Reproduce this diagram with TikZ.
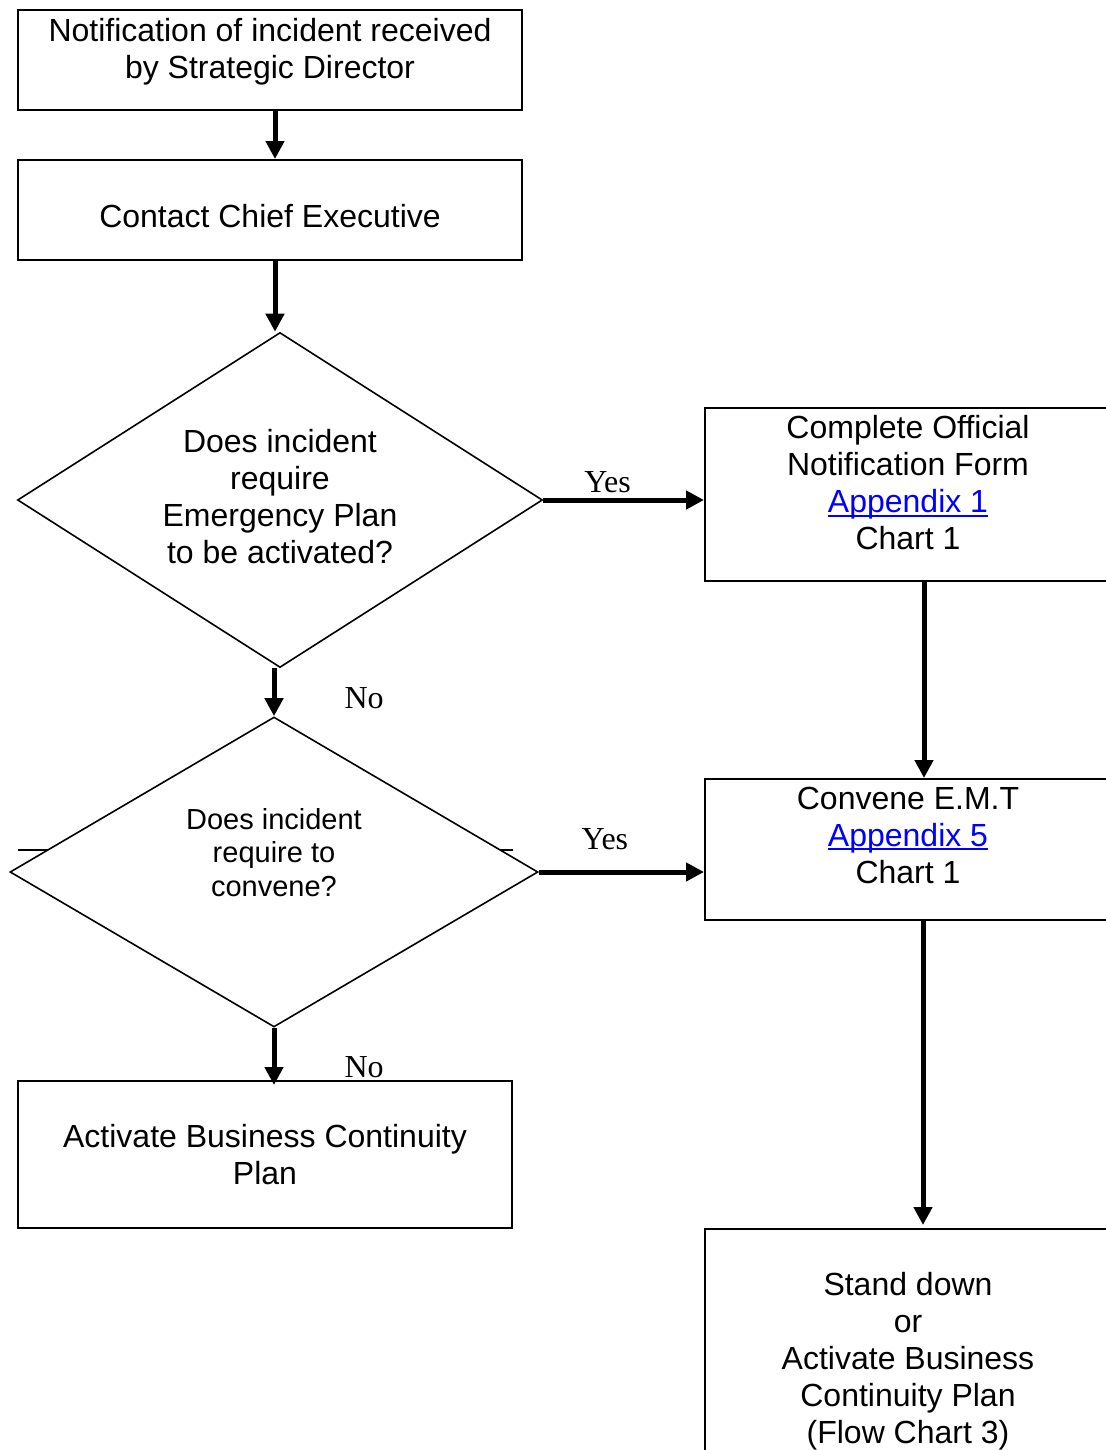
\documentclass[tikz,border=0pt]{standalone}
\usepackage{fontspec}
\setmainfont{Liberation Sans}
\newfontfamily\labelfont{Liberation Serif}
\usetikzlibrary{shapes.geometric,arrows.meta,positioning}

% blue underlined link text
\newcommand{\applink}[1]{\textcolor{blue}{\setbox0\hbox{#1}\rlap{\rule[-2pt]{\wd0}{0.9pt}}\box0}}

\begin{document}
\begin{tikzpicture}[x=0.5pt, y=-0.5pt,
      box/.style={rectangle, draw, line width=1pt, align=center, inner sep=0pt,
                  font=\fontsize{16}{18.5}\selectfont, text depth=0pt},
      wide/.style={box, minimum width=252pt, minimum height=50pt},
      side/.style={box, minimum width=203pt},
      decision/.style={diamond, draw, line width=0.8pt, fill=white, inner sep=0pt,
                       align=center},
      arr/.style={-{Triangle[width=9pt,length=9pt]}, line width=2.5pt},
      lbl/.style={font=\labelfont\fontsize{16}{18.5}\selectfont, inner sep=2.5pt},
    ]

    \useasboundingbox (0,0) rectangle (1105,1450);

    % Left column boxes
    \node[wide, text depth=12pt] (notify) at (270,60)
      {Notification of incident received\\by Strategic Director};
    \node[wide, text height=17.5pt] (contact) at (270,210) {Contact Chief Executive};

    % First decision
    \node[decision, aspect=1.57, minimum width=262.5pt, minimum height=167.5pt,
          font=\fontsize{16}{18.5}\selectfont, text depth=3.5pt] (needplan) at (280,500)
      {Does incident\\require\\Emergency Plan\\to be activated?};

    % Line hidden behind second decision
    \coordinate (stubL) at (18,850);
    \coordinate (stubR) at (513,850);
    \draw[line width=1pt] (stubL) -- (stubR);

    % Second decision
    \node[decision, aspect=1.7, minimum width=264pt, minimum height=155pt,
          font=\fontsize{14.5}{16.75}\selectfont, text depth=20pt] (needemt) at (274,872)
      {Does incident\\require to\\convene?};

    % Business continuity
    \node[box, minimum width=247pt, minimum height=73.5pt] (bcp) at (265,1154.5)
      {Activate Business Continuity\\Plan};

    % Right column boxes
    \node[side, minimum height=86.5pt, text depth=12pt] (form) at (908,494.5)
      {Complete Official\\Notification Form\\\applink{Appendix 1}\\Chart 1};
    \node[side, minimum height=70.5pt, text depth=14.5pt] (emt) at (908,849.5)
      {Convene E.M.T\\\applink{Appendix 5}\\Chart 1};
    \node[side, minimum height=129pt] (standdown) at (908,1358)
      {Stand down\\or\\Activate Business\\Continuity Plan\\(Flow Chart 3)};

    % Arrows: left column
    \draw[arr] ([xshift=2.5pt]notify.south) -- ([xshift=2.5pt]contact.north);
    \draw[arr] ([xshift=2.5pt]contact.south) -- ([xshift=2.5pt]contact.south |- needplan.north);
    \draw[arr] (needemt.north |- needplan.south) -- (needemt.north)
      node[lbl, midway, anchor=west, xshift=31.5pt, yshift=-3pt] {No};
    \draw[arr] (needemt.south) -- ([yshift=-2.5pt]needemt.south |- bcp.north)
      node[lbl, midway, anchor=west, xshift=31.5pt, yshift=-5.5pt] {No};

    % Arrows: yes branches
    \draw[arr] (needplan.east) -- (needplan.east -| form.west)
      node[lbl, pos=0.4, above] {Yes};
    \draw[arr] (needemt.east) -- (needemt.east -| emt.west)
      node[lbl, pos=0.4, above=7.5pt] {Yes};

    % Arrows: right column
    \draw[arr] ([xshift=8pt]form.south) -- ([xshift=8pt]emt.north);
    \draw[arr, shorten >=1.5pt] ([xshift=7.5pt]emt.south) -- ([xshift=7.5pt]standdown.north);

    \end{tikzpicture}
\end{document}
